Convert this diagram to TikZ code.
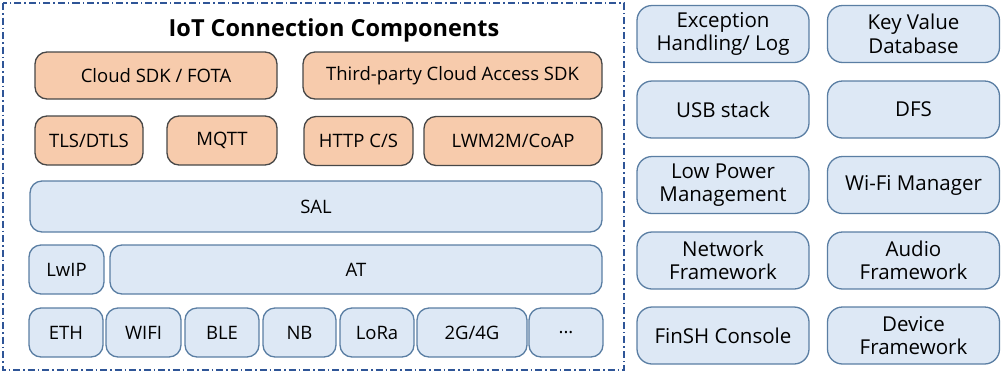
\documentclass[tikz,border=0pt]{standalone}
\usepackage{fontspec}
\setmainfont{Open Sans}
\begin{document}
\begin{tikzpicture}[x=1pt,y=-1pt,
  box/.style={rounded corners=12pt, line width=1.3pt, align=center, inner sep=0pt,
    font=\fontsize{18.5}{23}\selectfont},
  obox/.style={box, draw=black!72, fill=peach},
  bbox/.style={box, draw=bordblue, fill=fillblue},
  rbox/.style={bbox, rounded corners=15pt, minimum width=172, minimum height=57,
    font=\fontsize{20.5}{23.5}\selectfont},
]
\definecolor{bordblue}{HTML}{5A7EA3}
\definecolor{fillblue}{HTML}{DDE8F5}
\definecolor{frameblue}{HTML}{2F5597}
\definecolor{peach}{HTML}{F7CBAC}
\useasboundingbox (0,0) rectangle (1002,373);
% dash-dot frame around the connection stack
\draw[frameblue, line width=1.1pt, dash pattern=on 7pt off 3pt on 1.5pt off 3pt] (3,3) rectangle (624,370);
\node[font=\bfseries\fontsize{23.5}{27}\selectfont] (title) at (334,30) {IoT Connection Components};
% cloud access layer
\node[obox, minimum width=242, minimum height=47] (cloud) at (156,75.5) {Cloud SDK / FOTA};
\node[obox, minimum width=299, minimum height=47] (third) at (452.5,75.5) {Third-party Cloud Access SDK};
% protocol layer
\node[obox, minimum width=108, minimum height=49] (tls) at (89,140.5) {TLS/DTLS};
\node[obox, minimum width=110, minimum height=49] (mqtt) at (222,140.5) {MQTT};
\node[obox, minimum width=109, minimum height=49] (http) at (358.5,141) {HTTP C/S};
\node[obox, minimum width=178, minimum height=49] (lwm) at (513,141) {LWM2M/CoAP};
% socket abstraction layer
\node[bbox, minimum width=572, minimum height=51] (sal) at (316,206.5) {SAL};
\node[bbox, minimum width=75, minimum height=49] (lwip) at (66.5,269.5) {LwIP};
\node[bbox, minimum width=492, minimum height=49] (at) at (356,269.5) {AT};
% link layer
\node[bbox, minimum width=74, minimum height=49] (eth) at (66,332.5) {ETH};
\node[bbox, minimum width=75, minimum height=49] (wifi) at (143.5,332.5) {WIFI};
\node[bbox, minimum width=74, minimum height=49] (ble) at (222,332.5) {BLE};
\node[bbox, minimum width=73, minimum height=49] (nb) at (299.5,332.5) {NB};
\node[bbox, minimum width=74, minimum height=49] (lora) at (377,332.5) {LoRa};
\node[bbox, minimum width=110, minimum height=49] (cell) at (472,332.5) {2G/4G};
\node[bbox, minimum width=74, minimum height=49] (more) at (566,332.5) {...};
% other components
\node[rbox] (exc) at (723,34) {Exception\\Handling/ Log};
\node[rbox] (kv) at (913.5,34) {Key Value\\Database};
\node[rbox] (usb) at (723,109.5) {USB stack};
\node[rbox] (dfs) at (913.5,109.5) {DFS};
\node[rbox] (lpm) at (723,185) {Low Power\\Management};
\node[rbox] (wifim) at (913.5,185) {Wi-Fi Manager};
\node[rbox] (net) at (723,260.5) {Network\\Framework};
\node[rbox] (audio) at (913.5,260.5) {Audio\\Framework};
\node[rbox] (finsh) at (723,335.5) {FinSH Console};
\node[rbox] (dev) at (913.5,335.5) {Device\\Framework};
\end{tikzpicture}
\end{document}
